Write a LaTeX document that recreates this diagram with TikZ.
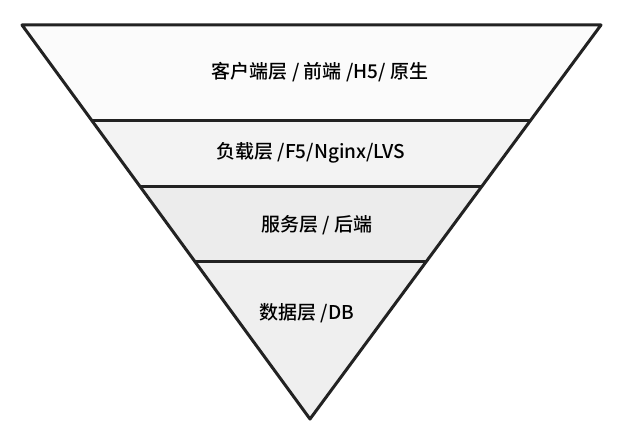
\documentclass[tikz,border=0pt]{standalone}
\usepackage{fontspec}
\setmainfont{Noto Sans CJK SC}[UprightFont=* Medium]
\definecolor{layerA}{HTML}{FBFBFB}
\definecolor{layerB}{HTML}{F3F3F3}
\definecolor{layerC}{HTML}{ECECEC}
\definecolor{layerD}{HTML}{EFEFEF}
\definecolor{edge}{HTML}{222222}
\begin{document}
\begin{tikzpicture}[x=1pt,y=-1pt,
  layer/.style={draw=edge,line width=3pt,line join=round},
  lbl/.style={font=\fontsize{19}{22}\selectfont,text=black,inner sep=0pt}]
\useasboundingbox (0,0) rectangle (628,428);
\fill[white] (0,0) rectangle (628,428);
\coordinate (TL) at (22,25);
\coordinate (TR) at (601,25);
\coordinate (A) at (310,419);
\coordinate (L1) at (91.4,120); \coordinate (R1) at (530.8,120);
\coordinate (L2) at (139.7,186); \coordinate (R2) at (482.1,186);
\coordinate (L3) at (194.5,261); \coordinate (R3) at (427.4,261);
\fill[layerA] (TL) -- (TR) -- (R1) -- (L1) -- cycle;
\fill[layerB] (L1) -- (R1) -- (R2) -- (L2) -- cycle;
\fill[layerC] (L2) -- (R2) -- (R3) -- (L3) -- cycle;
\fill[layerD] (L3) -- (R3) -- (A) -- cycle;
\draw[layer] (TL) -- (TR) -- (A) -- cycle;
\draw[layer] (L1) -- (R1);
\draw[layer] (L2) -- (R2);
\draw[layer] (L3) -- (R3);
\node[lbl] (t1) at (320,72) {客户端层 / 前端 /H5/ 原生};
\node[lbl] (t2) at (311,153) {负载层 /F5/Nginx/LVS};
\node[lbl] (t3) at (317,225) {服务层 / 后端};
\node[lbl] (t4) at (307,313) {数据层 /DB};
\end{tikzpicture}
\end{document}
